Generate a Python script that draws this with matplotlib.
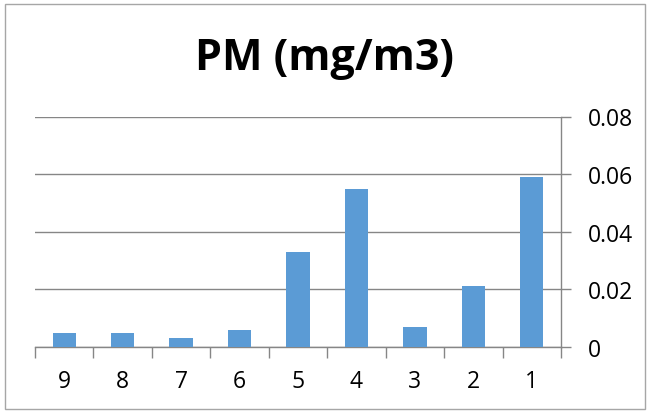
import matplotlib
matplotlib.use("Agg")
import matplotlib.pyplot as plt
import numpy as np
from matplotlib.patches import Rectangle

categories = ["9", "8", "7", "6", "5", "4", "3", "2", "1"]
pm_values = [0.005, 0.005, 0.003, 0.006, 0.033, 0.055, 0.007, 0.021, 0.059]
y_ticks = [0, 0.02, 0.04, 0.06, 0.08]
y_tick_labels = ["0", "0.02", "0.04", "0.06", "0.08"]

font = ["Open Sans", "DejaVu Sans"]
bar_color = "#5B9BD5"
grid_color = "#868686"

fig = plt.figure(figsize=(6.49, 4.14), dpi=100)
fig.patch.set_facecolor("white")
# thin frame around the whole chart
fig.patches.append(Rectangle((4.5 / 649, 4.5 / 414), 640 / 649, 405 / 414,
                             transform=fig.transFigure, fill=False,
                             edgecolor="#A6A6A6", linewidth=1.0))

ax = fig.add_axes([35 / 649, 66 / 414, 526 / 649, 230.5 / 414])
x = np.arange(len(categories))
ax.bar(x, pm_values, width=0.4, color=bar_color, zorder=3)

ax.set_xlim(-0.5, len(categories) - 0.5)
ax.set_ylim(0, 0.08)

# y axis on the right with gridlines
ax.yaxis.tick_right()
ax.set_yticks(y_ticks)
ax.set_yticklabels(y_tick_labels, family=font, fontsize=16.5)
ax.tick_params(axis="y", which="major", length=7, width=1, color=grid_color,
               pad=12, direction="out")
ax.grid(axis="y", color=grid_color, linewidth=1, zorder=0)

# category labels centred, tick marks at category boundaries
ax.set_xticks(x)
ax.set_xticklabels(categories, family=font, fontsize=16.5)
ax.set_xticks(np.arange(-0.5, len(categories)), minor=True)
ax.tick_params(axis="x", which="major", length=0, pad=16)
ax.tick_params(axis="x", which="minor", length=8, width=1, color=grid_color,
               direction="out")

for side in ["top", "left"]:
    ax.spines[side].set_visible(False)
for side in ["bottom", "right"]:
    ax.spines[side].set_color(grid_color)
    ax.spines[side].set_linewidth(1)

fig.text(0.5, 1 - 70 / 414, "PM (mg/m3)", ha="center", va="baseline",
         family=font, fontsize=31, fontweight="bold")

fig.savefig("out.png", dpi=100)
